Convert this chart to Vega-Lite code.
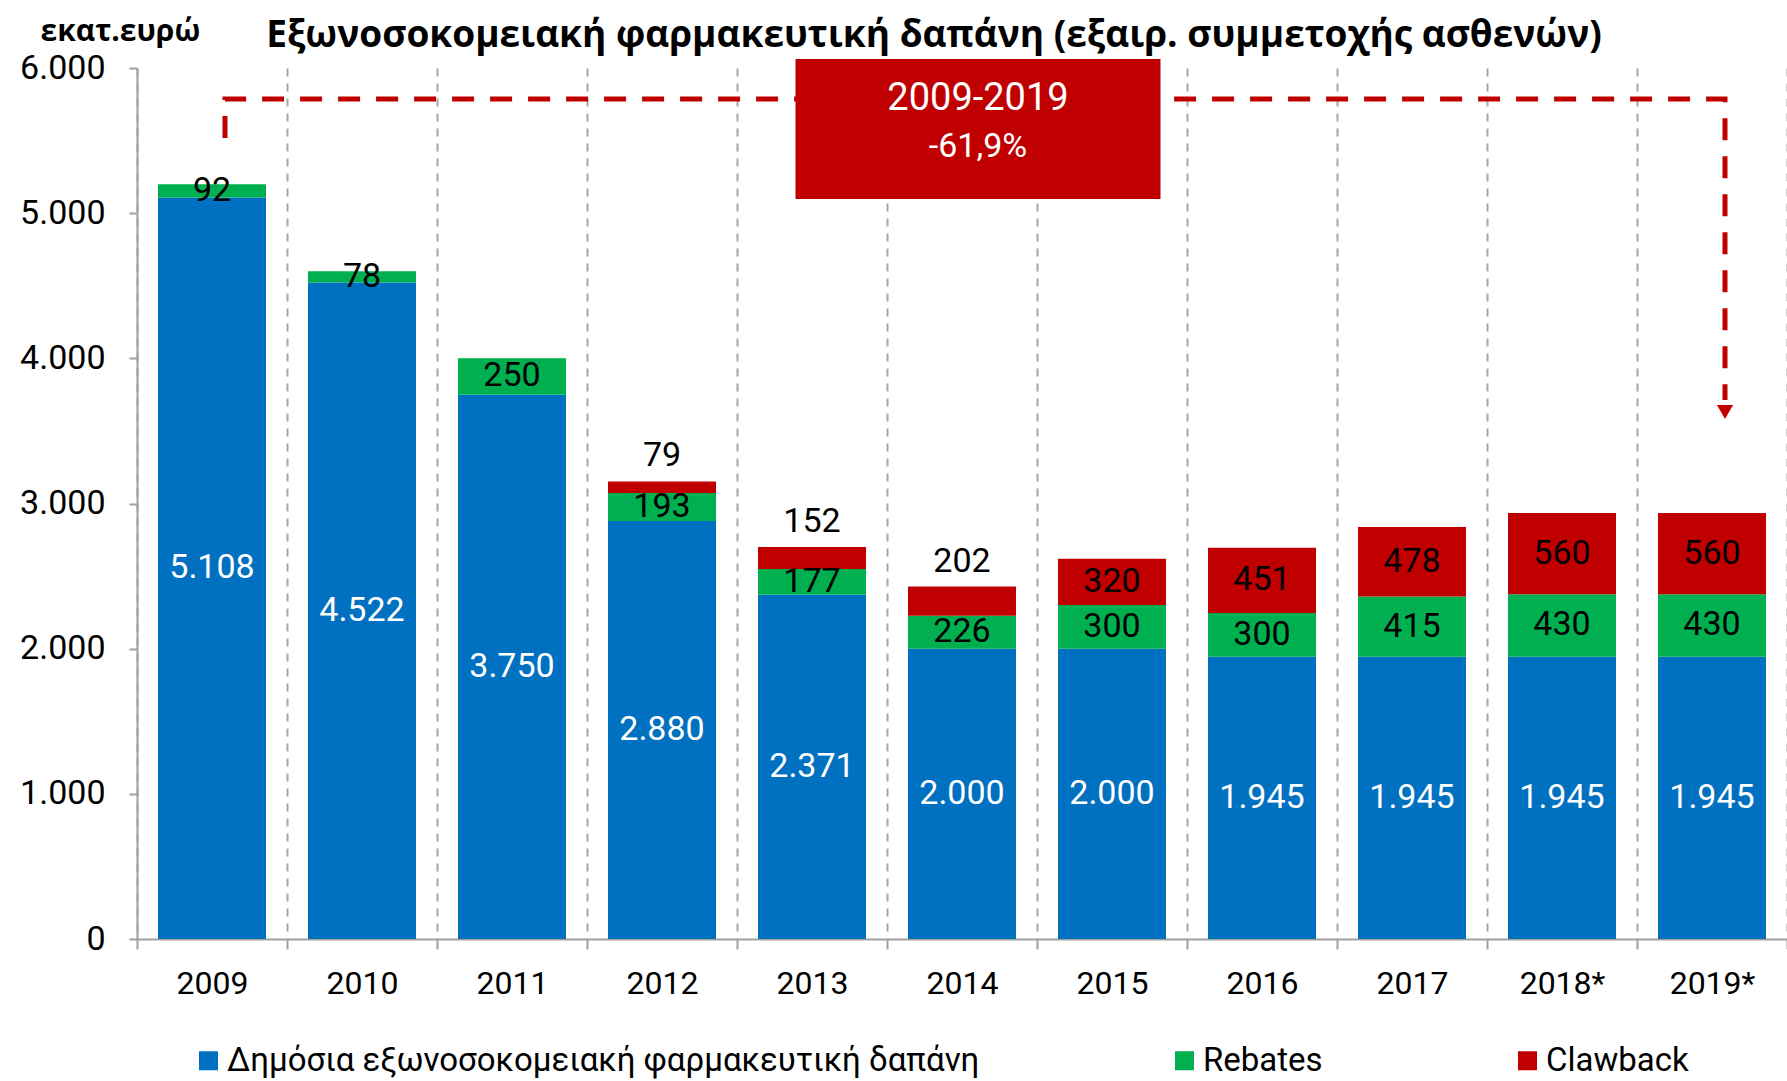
{
  "$schema": "https://vega.github.io/schema/vega-lite/v6.json",
  "width": 1650,
  "height": 871,
  "autosize": {"type": "none"},
  "padding": {"left": 137, "top": 68, "right": 0, "bottom": 142},
  "background": "white",
  "config": {
    "locale": {"number": {"decimal": ",", "thousands": ".", "grouping": [3], "currency": ["", " €"]}},
    "view": {"stroke": null},
    "font": "Roboto"
  },
  "title": {
    "text": "Εξωνοσοκομειακή φαρμακευτική δαπάνη (εξαιρ. συμμετοχής ασθενών)",
    "font": "Open Sans", "fontSize": 37, "fontWeight": "bold", "color": "black",
    "anchor": "middle", "frame": "group", "dx": -28, "dy": 89, "offset": 21, "baseline": "alphabetic"
  },
  "datasets": {
    "spend": [
      {"year": "2009", "series": "Δημόσια εξωνοσοκομειακή φαρμακευτική δαπάνη", "value": 5108},
      {"year": "2009", "series": "Rebates", "value": 92},
      {"year": "2010", "series": "Δημόσια εξωνοσοκομειακή φαρμακευτική δαπάνη", "value": 4522},
      {"year": "2010", "series": "Rebates", "value": 78},
      {"year": "2011", "series": "Δημόσια εξωνοσοκομειακή φαρμακευτική δαπάνη", "value": 3750},
      {"year": "2011", "series": "Rebates", "value": 250},
      {"year": "2012", "series": "Δημόσια εξωνοσοκομειακή φαρμακευτική δαπάνη", "value": 2880},
      {"year": "2012", "series": "Rebates", "value": 193},
      {"year": "2012", "series": "Clawback", "value": 79},
      {"year": "2013", "series": "Δημόσια εξωνοσοκομειακή φαρμακευτική δαπάνη", "value": 2371},
      {"year": "2013", "series": "Rebates", "value": 177},
      {"year": "2013", "series": "Clawback", "value": 152},
      {"year": "2014", "series": "Δημόσια εξωνοσοκομειακή φαρμακευτική δαπάνη", "value": 2000},
      {"year": "2014", "series": "Rebates", "value": 226},
      {"year": "2014", "series": "Clawback", "value": 202},
      {"year": "2015", "series": "Δημόσια εξωνοσοκομειακή φαρμακευτική δαπάνη", "value": 2000},
      {"year": "2015", "series": "Rebates", "value": 300},
      {"year": "2015", "series": "Clawback", "value": 320},
      {"year": "2016", "series": "Δημόσια εξωνοσοκομειακή φαρμακευτική δαπάνη", "value": 1945},
      {"year": "2016", "series": "Rebates", "value": 300},
      {"year": "2016", "series": "Clawback", "value": 451},
      {"year": "2017", "series": "Δημόσια εξωνοσοκομειακή φαρμακευτική δαπάνη", "value": 1945},
      {"year": "2017", "series": "Rebates", "value": 415},
      {"year": "2017", "series": "Clawback", "value": 478},
      {"year": "2018*", "series": "Δημόσια εξωνοσοκομειακή φαρμακευτική δαπάνη", "value": 1945},
      {"year": "2018*", "series": "Rebates", "value": 430},
      {"year": "2018*", "series": "Clawback", "value": 560},
      {"year": "2019*", "series": "Δημόσια εξωνοσοκομειακή φαρμακευτική δαπάνη", "value": 1945},
      {"year": "2019*", "series": "Rebates", "value": 430},
      {"year": "2019*", "series": "Clawback", "value": 560}
    ]
  },
  "layer": [
    {
      "data": {"name": "spend"},
      "transform": [
        {"stack": "value", "groupby": ["year"], "sort": [{"field": "series", "order": "descending"}], "as": ["v0", "v1"]},
        {"calculate": "(datum.v0 + datum.v1) / 2", "as": "vmid"}
      ],
      "layer": [
        {
          "mark": {"type": "bar", "width": {"band": 0.72}},
          "encoding": {
            "x": {
              "field": "year", "type": "ordinal",
              "scale": {"domain": ["2009","2010","2011","2012","2013","2014","2015","2016","2017","2018*","2019*"], "paddingInner": 0, "paddingOuter": 0},
              "axis": {
                "title": null, "tickBand": "extent", "grid": true, "gridDash": [8, 7], "gridColor": "#A6A6A6", "gridWidth": 2,
                "tickSize": 10, "tickColor": "#A0A0A0", "tickWidth": 2, "domainColor": "#A0A0A0", "domainWidth": 2,
                "labelPadding": 19, "labelFontSize": 32, "labelColor": "black", "labelFont": "Roboto", "labelAngle": 0
              }
            },
            "y": {
              "field": "v0", "type": "quantitative",
              "scale": {"domain": [0, 6000], "nice": false},
              "axis": {
                "title": "εκατ.ευρώ", "titleAngle": 0, "titleAlign": "left", "titleBaseline": "alphabetic",
                "titleX": -97, "titleY": -28, "titleFontSize": 30, "titleFontWeight": "bold", "titleFont": "Open Sans", "titleColor": "black",
                "values": [0, 1000, 2000, 3000, 4000, 5000, 6000], "format": ",d", "grid": false,
                "labelFontSize": 34, "labelFont": "Roboto", "labelColor": "black", "labelPadding": 24,
                "tickSize": 8, "tickColor": "#A0A0A0", "tickWidth": 2, "domainColor": "#A0A0A0", "domainWidth": 2
              }
            },
            "y2": {"field": "v1"},
            "color": {
              "field": "series", "type": "nominal",
              "scale": {"domain": ["Δημόσια εξωνοσοκομειακή φαρμακευτική δαπάνη", "Rebates", "Clawback"], "range": ["#0070C0", "#00B050", "#C00000"]},
              "legend": {
                "title": null, "orient": "none", "legendX": 55, "legendY": 976, "direction": "horizontal",
                "symbolType": "square", "symbolSize": 361, "symbolStrokeWidth": 0,
                "labelFontSize": 33, "labelFont": "Roboto", "labelColor": "black",
                "columnPadding": 188, "labelOffset": 2, "labelLimit": 1200
              }
            }
          }
        },
        {
          "transform": [{"filter": {"field": "series", "equal": "Δημόσια εξωνοσοκομειακή φαρμακευτική δαπάνη"}}],
          "mark": {"type": "text", "fontSize": 34, "font": "Roboto", "color": "white", "baseline": "middle"},
          "encoding": {
            "x": {"field": "year", "type": "ordinal"},
            "y": {"field": "vmid", "type": "quantitative"},
            "text": {"field": "value", "type": "quantitative", "format": ",d"}
          }
        },
        {
          "transform": [{"filter": "datum.series != 'Δημόσια εξωνοσοκομειακή φαρμακευτική δαπάνη' && (datum.series == 'Rebates' || datum.value >= 300)"}],
          "mark": {"type": "text", "fontSize": 34, "font": "Roboto", "color": "black", "baseline": "middle"},
          "encoding": {
            "x": {"field": "year", "type": "ordinal"},
            "y": {"field": "vmid", "type": "quantitative"},
            "text": {"field": "value", "type": "quantitative", "format": ",d"}
          }
        },
        {
          "transform": [{"filter": "datum.series == 'Clawback' && datum.value < 300"}],
          "mark": {"type": "text", "fontSize": 34, "font": "Roboto", "color": "black", "baseline": "middle", "dy": -25},
          "encoding": {
            "x": {"field": "year", "type": "ordinal"},
            "y": {"field": "v1", "type": "quantitative"},
            "text": {"field": "value", "type": "quantitative", "format": ",d"}
          }
        }
      ]
    },
    {
      "data": {"values": [
        {"x": "2009", "y": 5518, "o": 1},
        {"x": "2009", "y": 5786, "o": 2},
        {"x": "2019*", "y": 5786, "o": 3},
        {"x": "2019*", "y": 3713, "o": 4}
      ]},
      "mark": {"type": "line", "color": "#C00000", "strokeWidth": 5, "strokeDash": [22, 16], "xOffset": 13},
      "encoding": {
        "x": {"field": "x", "type": "ordinal"},
        "y": {"field": "y", "type": "quantitative"},
        "order": {"field": "o", "type": "quantitative"}
      }
    },
    {
      "data": {"values": [{"x": "2019*", "y": 3630}]},
      "mark": {"type": "point", "shape": "triangle-down", "filled": true, "color": "#C00000", "opacity": 1, "size": 260, "xOffset": 13},
      "encoding": {
        "x": {"field": "x", "type": "ordinal"},
        "y": {"field": "y", "type": "quantitative"}
      }
    },
    {
      "data": {"values": [{"x": "2014", "top": 6062, "bottom": 5098}]},
      "mark": {"type": "bar", "color": "#C00000", "width": 365, "xOffset": 16},
      "encoding": {
        "x": {"field": "x", "type": "ordinal"},
        "y": {"field": "top", "type": "quantitative"},
        "y2": {"field": "bottom"}
      }
    },
    {
      "data": {"values": [{"x": "2014", "y": 5711, "label": "2009-2019"}]},
      "mark": {"type": "text", "fontSize": 38, "font": "Roboto", "color": "white", "baseline": "alphabetic", "xOffset": 16},
      "encoding": {
        "x": {"field": "x", "type": "ordinal"},
        "y": {"field": "y", "type": "quantitative"},
        "text": {"field": "label"}
      }
    },
    {
      "data": {"values": [{"x": "2014", "y": 5387, "label": "-61,9%"}]},
      "mark": {"type": "text", "fontSize": 34, "font": "Roboto", "color": "white", "baseline": "alphabetic", "xOffset": 16},
      "encoding": {
        "x": {"field": "x", "type": "ordinal"},
        "y": {"field": "y", "type": "quantitative"},
        "text": {"field": "label"}
      }
    }
  ]
}
